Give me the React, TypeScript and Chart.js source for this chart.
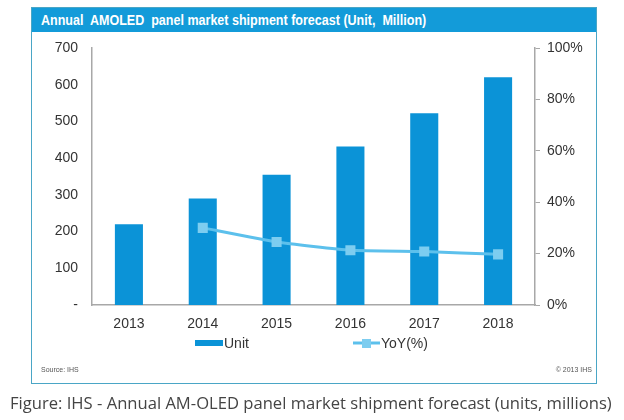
import React, { useEffect, useRef } from "react";
import { Chart, registerables } from "chart.js";

Chart.register(...registerables);

const years = ["2013", "2014", "2015", "2016", "2017", "2018"];
const units = [220, 290, 355, 432, 522, 620];
const yoy = [null, 30, 24.5, 21.3, 20.8, 19.7];
const leftTicks = [0, 100, 200, 300, 400, 500, 600, 700];
const rightTicks = [0, 20, 40, 60, 80, 100];

const BAR = "#0b93d7";
const LINE = "#5cc0ec";
const TICK_FONT = { family: "'Liberation Sans', Arial, sans-serif", size: 14 };

const legendPlugin = {
  id: "customLegend",
  afterDraw(chart: any) {
    const ctx = chart.ctx;
    ctx.save();
    const y = 343;
    ctx.fillStyle = BAR;
    ctx.fillRect(195, y - 3, 28, 6);
    ctx.font = "14px 'Liberation Sans', Arial, sans-serif";
    ctx.fillStyle = "#333";
    ctx.textBaseline = "middle";
    ctx.fillText("Unit", 224, y + 1);
    ctx.strokeStyle = LINE;
    ctx.lineWidth = 3;
    ctx.beginPath();
    ctx.moveTo(353, y);
    ctx.lineTo(380, y);
    ctx.stroke();
    ctx.fillStyle = "#7dcdf0";
    ctx.fillRect(362, y - 4, 9, 9);
    ctx.fillStyle = "#333";
    ctx.fillText("YoY(%)", 381, y + 1);
    ctx.restore();
  },
};

export default function App() {
  const ref = useRef<HTMLCanvasElement>(null);
  useEffect(() => {
    if (!ref.current) return;
    const chart = new Chart(ref.current, {
      type: "bar",
      data: {
        labels: years,
        datasets: [
          {
            type: "line",
            label: "YoY(%)",
            data: yoy as any,
            yAxisID: "y1",
            borderColor: LINE,
            borderWidth: 3,
            pointStyle: "rect",
            pointRadius: 5,
            pointBackgroundColor: "#7dcdf0",
            pointBorderColor: "#7dcdf0",
            tension: 0.15,
            order: 1,
          } as any,
          {
            type: "bar",
            label: "Unit",
            data: units,
            yAxisID: "y",
            backgroundColor: BAR,
            barPercentage: 0.38,
            categoryPercentage: 1,
            order: 2,
          },
        ],
      },
      options: {
        animation: false,
        responsive: false,
        layout: { padding: { top: 48, left: 0, right: 0, bottom: 0 } },
        plugins: { legend: { display: false }, tooltip: { enabled: false } },
        scales: {
          x: {
            grid: { display: false },
            border: { color: "#a8a8a8", width: 1.5 },
            ticks: { font: TICK_FONT, color: "#333", padding: 3 },
            afterFit: (s: any) => { s.height = 115; },
          },
          y: {
            position: "left",
            min: 0,
            max: 700,
            afterBuildTicks: (s: any) => { s.ticks = leftTicks.map((v) => ({ value: v })); },
            grid: { display: false },
            border: { color: "#a8a8a8", width: 1.5 },
            ticks: {
              font: TICK_FONT,
              color: "#333",
              padding: 6,
              callback: (v: any) => (v === 0 ? "-" : String(v)),
            },
            afterFit: (s: any) => { s.width = 92; },
          },
          y1: {
            position: "right",
            min: 0,
            max: 100,
            afterBuildTicks: (s: any) => { s.ticks = rightTicks.map((v) => ({ value: v })); },
            grid: { drawOnChartArea: false, drawTicks: true, tickLength: 5, color: "#a8a8a8" },
            border: { color: "#a8a8a8", width: 1.5 },
            ticks: { font: TICK_FONT, color: "#333", padding: 7, callback: (v: any) => v + "%" },
            afterFit: (s: any) => { s.width = 89; },
          },
        },
      },
      plugins: [legendPlugin],
    });
    return () => chart.destroy();
  }, []);

  return (
    <div style={{ position: "fixed", left: 0, top: 0, width: 624, height: 420, background: "#fff", overflow: "hidden" }}>
      <div
        style={{
          position: "absolute",
          left: 31,
          top: 7,
          width: 564,
          height: 375,
          border: "1.5px solid #4aa6c6",
          boxSizing: "content-box",
        }}
      />
      <div
        style={{
          position: "absolute",
          left: 32,
          top: 8,
          width: 564,
          height: 24,
          background: "#139bd9",
          color: "#fff",
          fontFamily: "'Liberation Sans', Arial, sans-serif",
          fontWeight: "bold",
          fontSize: 14,
          lineHeight: "24px",
          paddingLeft: 9,
          boxSizing: "border-box",
          whiteSpace: "pre",
        }}
      >
        <span style={{ display: "inline-block", transform: "scaleX(0.895)", transformOrigin: "left center" }}>
          {"Annual  AMOLED  panel market shipment forecast (Unit,  Million)"}
        </span>
      </div>
      <canvas ref={ref} width={624} height={420} style={{ position: "absolute", left: 0, top: 0 }} />
      <div
        style={{
          position: "absolute",
          left: 41,
          top: 366,
          fontFamily: "'Liberation Sans', Arial, sans-serif",
          fontSize: 7,
          color: "#555",
        }}
      >
        Source: IHS
      </div>
      <div
        style={{
          position: "absolute",
          right: 624 - 592,
          top: 366,
          fontFamily: "'Liberation Sans', Arial, sans-serif",
          fontSize: 7,
          color: "#555",
        }}
      >
        © 2013 IHS
      </div>
      <div
        style={{
          position: "absolute",
          left: 10,
          top: 391,
          fontFamily: "'Open Sans', sans-serif",
          fontSize: 16.6,
          color: "#444",
          whiteSpace: "nowrap",
        }}
      >
        Figure: IHS - Annual AM-OLED panel market shipment forecast (units, millions)
      </div>
    </div>
  );
}
